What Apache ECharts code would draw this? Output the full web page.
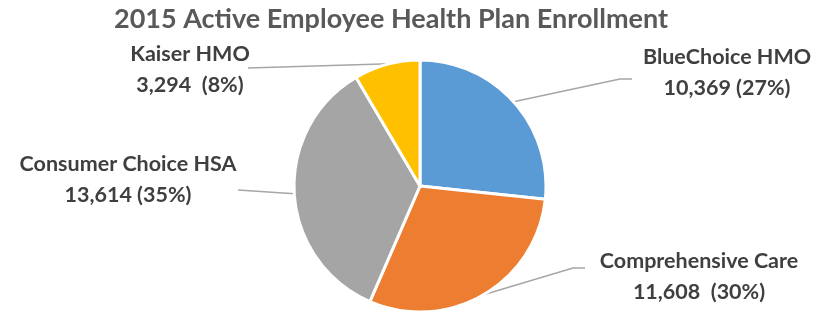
<!DOCTYPE html>
<html>
<head>
<meta charset="utf-8">
<script src="https://cdn.jsdelivr.net/npm/echarts@6/dist/echarts.min.js"></script>
<style>
  html, body { margin: 0; padding: 0; background: #fff; }
  #chart { width: 831px; height: 312px; }
</style>
</head>
<body>
<div id="chart"></div>
<script>
const plans = ['BlueChoice HMO', 'Comprehensive Care', 'Consumer Choice HSA', 'Kaiser HMO']
const enrollment = [10369, 11608, 13614, 3294]
const percents = [27, 30, 35, 8]
const gaps = [' ', '  ', ' ', '  ']
const colors = ['#5B9BD5', '#ED7D31', '#A5A5A5', '#FFC000']

const center = [420, 186]
const radius = 126

// label block center + leader points from the slice side outward; edgeAngle overrides where the leader meets the slice
const labelPos = [
  { x: 727, y: 73, leader: [[620, 79], [632, 79]] },
  { x: 699, y: 277, leader: [[573, 268], [585, 268]] },
  { x: 128, y: 180, leader: [[238, 190]] },
  { x: 190, y: 70, leader: [[248, 68]], edgeAngle: 104 }
]

const chart = echarts.init(document.getElementById('chart'))

chart.setOption({
  animation: false,
  title: {
    text: '2015 Active Employee Health Plan Enrollment',
    left: 386,
    top: 1,
    textAlign: 'center',
    textStyle: {
      fontFamily: 'Lato',
      fontWeight: 'bold',
      fontSize: 27,
      color: '#595959'
    }
  },
  series: [{
    type: 'pie',
    center: center,
    radius: radius,
    startAngle: 90,
    clockwise: true,
    data: plans.map((name, i) => ({
      name,
      value: enrollment[i],
      itemStyle: { color: colors[i] }
    })),
    itemStyle: {
      borderColor: '#fff',
      borderWidth: 3
    },
    label: {
      show: true,
      formatter: p => p.name + '\n' + p.value.toLocaleString('en-US') + gaps[p.dataIndex] + '(' + percents[p.dataIndex] + '%)',
      fontFamily: 'Lato',
      fontWeight: 'bold',
      fontSize: 21.5,
      lineHeight: 31,
      color: '#3F3F3F',
      align: 'center'
    },
    labelLine: {
      show: true,
      lineStyle: { color: '#A6A6A6', width: 1.5 }
    },
    labelLayout: params => {
      const pos = labelPos[params.dataIndex]
      let start = params.labelLinePoints[0]
      if (pos.edgeAngle != null) {
        const a = pos.edgeAngle * Math.PI / 180
        start = [center[0] + radius * Math.cos(a), center[1] - radius * Math.sin(a)]
      }
      return {
        x: pos.x,
        y: pos.y,
        align: 'center',
        verticalAlign: 'middle',
        labelLinePoints: [start].concat(pos.leader)
      }
    }
  }]
})
</script>
</body>
</html>
